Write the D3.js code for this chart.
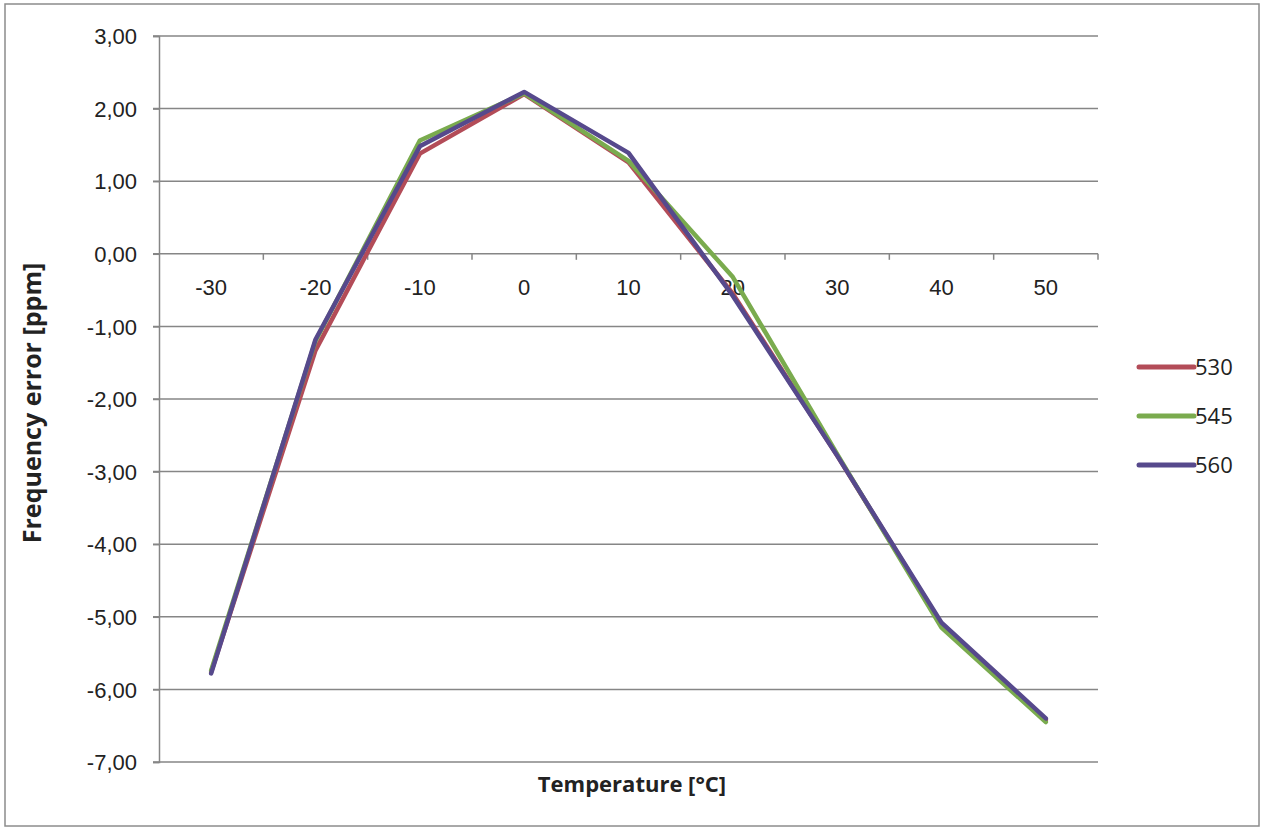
<!DOCTYPE html>
<html><head><meta charset="utf-8">
<script src="https://cdn.jsdelivr.net/npm/d3@7"></script>
<style>
body{margin:0;background:#fff;}
svg{display:block;font-family:"Open Sans",sans-serif;}
</style></head>
<body><svg id="c" width="1262" height="829"></svg>
<script>
const temperatures = [-30,-20,-10,0,10,20,30,40,50];
const series530 = [-5.76,-1.33,1.38,2.20,1.26,-0.55,-2.78,-5.10,-6.42];
const series545 = [-5.74,-1.20,1.56,2.21,1.28,-0.32,-2.76,-5.15,-6.45];
const series560 = [-5.78,-1.18,1.48,2.23,1.39,-0.58,-2.78,-5.08,-6.40];
const seriesNames = ["530","545","560"];
const seriesColors = ["#b34c58","#7aab4e","#56498c"];
const yTicks = [3,2,1,0,-1,-2,-3,-4,-5,-6,-7];

const svg = d3.select("#c");
const L = 159, R = 1098, T = 36, B = 762;

svg.append("rect").attr("x",5).attr("y",4).attr("width",1254).attr("height",822)
  .attr("fill","#fff").attr("stroke","#8c8c8c").attr("stroke-width",1.5);

const x = d3.scaleBand().domain(temperatures).range([L,R]).padding(0);
const y = d3.scaleLinear().domain([-7,3]).range([B,T]);

// gridlines
svg.append("g").selectAll("line").data(yTicks).join("line")
  .attr("x1",L-6).attr("x2",R).attr("y1",d=>y(d)).attr("y2",d=>y(d))
  .attr("stroke","#868686").attr("stroke-width",1.5);

// y axis
const yAxis = d3.axisLeft(y).tickValues(yTicks).tickSize(6).tickPadding(16)
  .tickFormat(d=>d.toFixed(2).replace(".",","));
const gy = svg.append("g").attr("transform",`translate(${L},0)`).call(yAxis);
gy.select(".domain").attr("stroke","#868686").attr("stroke-width",1.5);
gy.selectAll(".tick line").attr("stroke","#868686").attr("stroke-width",1.5);
gy.selectAll("text").attr("font-size",22).attr("fill","#222").attr("dy","0.35em");

// x axis at y=0
const xAxis = d3.axisBottom(x).tickSize(0).tickPadding(26).tickFormat(d=>String(d));
const gx = svg.append("g").attr("transform",`translate(0,${y(0)})`).call(xAxis);
gx.select(".domain").remove();
gx.selectAll("text").attr("font-size",22).attr("fill","#222");
gx.append("g").selectAll("line").data(temperatures.slice(1)).join("line")
  .attr("x1",d=>x(d)).attr("x2",d=>x(d)).attr("y1",0).attr("y2",6)
  .attr("stroke","#868686").attr("stroke-width",1.5);
gx.append("line").attr("x1",R).attr("x2",R).attr("y1",0).attr("y2",6)
  .attr("stroke","#868686").attr("stroke-width",1.5);

// lines
const all = [series530, series545, series560];
const line = d3.line().x((d,i)=>x(temperatures[i])+x.bandwidth()/2).y(d=>y(d));
all.forEach((s,i)=>{
  svg.append("path").datum(s).attr("d",line).attr("fill","none")
    .attr("stroke",seriesColors[i]).attr("stroke-width",4.5)
    .attr("stroke-linejoin","round").attr("stroke-linecap","round");
});

// legend
const lg = svg.append("g");
seriesNames.forEach((n,i)=>{
  const yy = 367 + i*49;
  lg.append("line").attr("x1",1139).attr("x2",1194).attr("y1",yy).attr("y2",yy)
    .attr("stroke",seriesColors[i]).attr("stroke-width",5).attr("stroke-linecap","round");
  lg.append("text").attr("x",1195).attr("y",yy).attr("dy","0.35em")
    .attr("font-size",22).attr("fill","#222").text(n);
});

// axis titles
svg.append("text").attr("x",632).attr("y",792).attr("text-anchor","middle")
  .attr("font-size",22).attr("font-weight","bold").attr("fill","#222").text("Temperature [°C]");
svg.append("text").attr("transform","translate(41,403) rotate(-90)").attr("text-anchor","middle")
  .attr("font-size",25).attr("font-weight","bold").attr("fill","#222").text("Frequency error [ppm]");
</script></body></html>
